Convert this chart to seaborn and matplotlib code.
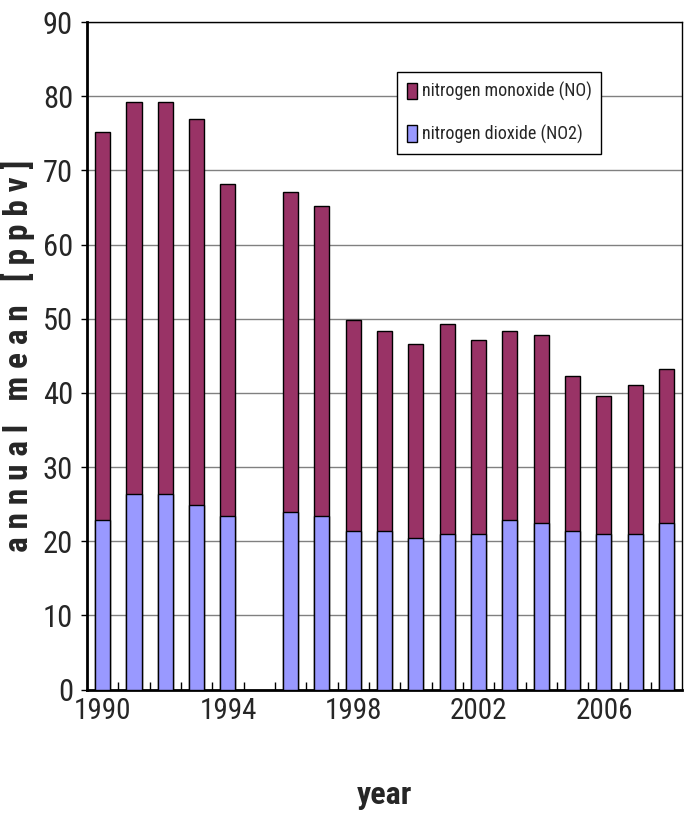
import matplotlib
matplotlib.use("Agg")
import matplotlib.pyplot as plt
import seaborn as sns
import pandas as pd
from matplotlib.patches import Patch
from matplotlib.ticker import FixedLocator
from matplotlib import font_manager

# 数据（1995 年缺测）
years = [1990, 1991, 1992, 1993, 1994, 1996, 1997, 1998, 1999, 2000,
         2001, 2002, 2003, 2004, 2005, 2006, 2007, 2008]
all_years = [str(y) for y in range(1990, 2009)]
total_nox = [75.2, 79.3, 79.3, 77.0, 68.2, 67.1, 65.2, 49.9, 48.3, 46.6,
             49.3, 47.1, 48.3, 47.8, 42.3, 39.6, 41.1, 43.3]
no2 = [22.9, 26.4, 26.4, 24.9, 23.4, 23.9, 23.4, 21.4, 21.4, 20.5,
       21.0, 21.0, 22.9, 22.5, 21.4, 21.0, 21.0, 22.5]
x_labels = ["1990", "1994", "1998", "2002", "2006"]

NO_COLOR = "#993366"
NO2_COLOR = "#9999ff"

df = pd.DataFrame({"year": [str(y) for y in years], "total": total_nox, "no2": no2})

sns.set_style("white")
names = {f.name for f in font_manager.fontManager.ttflist}
narrow = [n for n in ["Liberation Sans Narrow", "Roboto Condensed", "Open Sans Condensed"] if n in names]
plt.rcParams['font.family'] = narrow + ['Liberation Sans', 'DejaVu Sans']

fig = plt.figure(figsize=(6.85, 8.21), dpi=100)
ax = fig.add_axes([0.127, 0.16, 0.869, 0.813])

sns.barplot(data=df, x="year", y="total", order=all_years, color=NO_COLOR,
            width=0.48, edgecolor="black", linewidth=1.0, saturation=1, ax=ax, zorder=3)
sns.barplot(data=df, x="year", y="no2", order=all_years, color=NO2_COLOR,
            width=0.48, edgecolor="black", linewidth=1.0, saturation=1, ax=ax, zorder=4)

ax.set_ylim(0, 90)
ax.set_xlim(-0.5, len(all_years) - 0.5)
ax.set_yticks(range(0, 91, 10))
ax.yaxis.grid(True, color="#808080", linewidth=1.0, zorder=0)
ax.set_axisbelow(True)

ax.set_xticks([all_years.index(l) for l in x_labels])
ax.set_xticklabels(x_labels)
ax.xaxis.set_minor_locator(FixedLocator([i + 0.5 for i in range(len(all_years) - 1)]))
ax.tick_params(axis="x", which="major", length=0, pad=5, labelsize=21)
ax.tick_params(axis="x", which="minor", direction="in", length=6, width=1, color="black", bottom=True)
ax.tick_params(axis="y", which="major", direction="out", length=4, width=1, color="black",
               left=True, labelsize=22, pad=6)

for side in ["left", "bottom"]:
    ax.spines[side].set_linewidth(2)
for side in ["top", "right"]:
    ax.spines[side].set_linewidth(1)
for s in ax.spines.values():
    s.set_color("black")

ax.set_xlabel("year", fontsize=23, fontweight="bold", labelpad=40)
ax.set_ylabel("a n n u a l   m e a n   [ p p b v ]", fontsize=24, fontweight="bold", labelpad=6)

handles = [Patch(facecolor=NO_COLOR, edgecolor="black", label="nitrogen monoxide (NO)"),
           Patch(facecolor=NO2_COLOR, edgecolor="black", label="nitrogen dioxide (NO2)")]
leg = ax.legend(handles=handles, loc="upper left", bbox_to_anchor=(0.521, 0.925),
                borderaxespad=0, fontsize=13, frameon=True, fancybox=False, framealpha=1,
                edgecolor="black", handlelength=0.55, handleheight=1.0,
                handletextpad=0.25, borderpad=0.55, labelspacing=1.3)
leg.get_frame().set_linewidth(1)
leg.set_zorder(10)

fig.savefig("out.png", dpi=100)
